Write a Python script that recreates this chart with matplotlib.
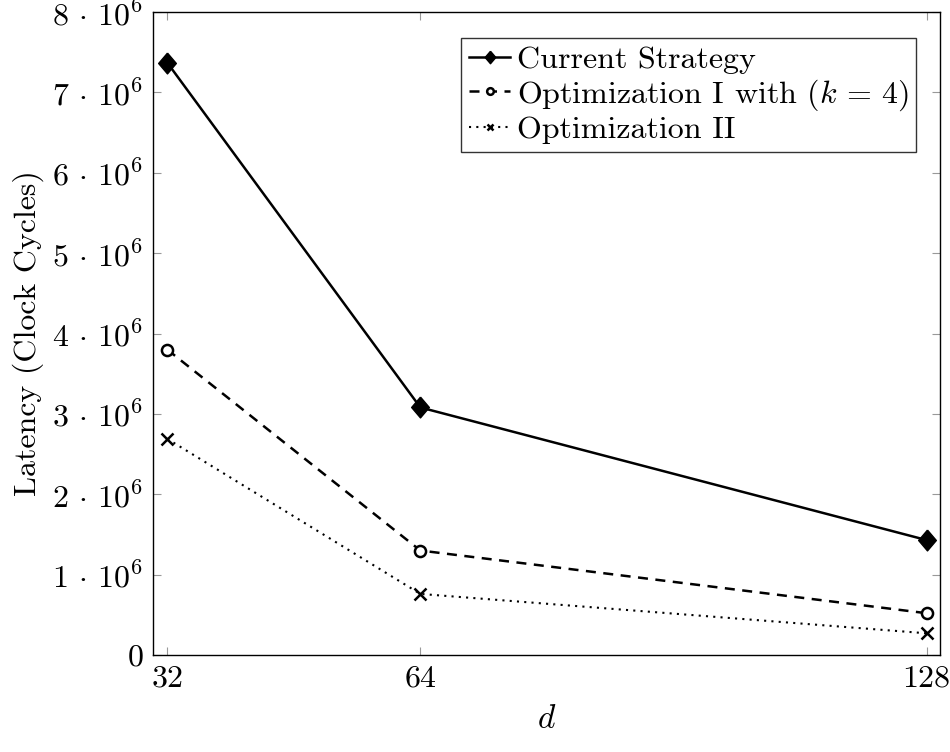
import numpy as np
import matplotlib.pyplot as plt

plt.rcParams['font.family'] = 'serif'
plt.rcParams['font.serif'] = ['cmr10', 'DejaVu Serif']
plt.rcParams['mathtext.fontset'] = 'cm'
plt.rcParams['axes.formatter.use_mathtext'] = True
plt.rcParams['axes.unicode_minus'] = False

# data
d = [32, 64, 128]
current = [7.37e6, 3.08e6, 1.43e6]
opt1 = [3.80e6, 1.30e6, 0.52e6]
opt2 = [2.69e6, 0.76e6, 0.27e6]
yticks = [0, 1e6, 2e6, 3e6, 4e6, 5e6, 6e6, 7e6, 8e6]
ytick_labels = ['$0$'] + [r'$%d\,\cdot\,10^6$' % k for k in range(1, 9)]

# pgfplots-like diamond (a bit taller than wide)
diamond = [(0, 1), (0.85, 0), (0, -1), (-0.85, 0), (0, 1)]

fig = plt.figure(figsize=(9.5, 7.52), dpi=100)
ax = fig.add_axes([153 / 950, 1 - 655 / 752, 787 / 950, 643 / 752])

ax.plot(d, current, color='black', lw=1.8, marker=diamond, ms=15, mfc='black',
        label='Current Strategy')
ax.plot(d, opt1, color='black', lw=1.8, ls=(0, (4, 3)), marker='o', ms=8,
        mfc='white', mew=1.8, label=r'Optimization I with $(k\,=\,4)$')
ax.plot(d, opt2, color='black', lw=1.5, ls=(0, (1, 2.5)), marker='x', ms=8,
        mew=1.8, label='Optimization II')

ax.set_xlim(30.2, 129.7)
ax.set_ylim(0, 8e6)
ax.set_xticks(d)
ax.set_xticklabels(['$%d$' % v for v in d])
ax.set_yticks(yticks)
ax.set_yticklabels(ytick_labels)
ax.tick_params(direction='in', length=6, color='#999999', labelsize=23,
               top=True, right=True, pad=7)
for s in ax.spines.values():
    s.set_linewidth(1.0)

ax.set_xlabel('$d$', fontsize=24, labelpad=9)
ax.set_ylabel('Latency (Clock Cycles)', fontsize=23, labelpad=6)

leg = ax.legend(loc='upper right', bbox_to_anchor=(0.97, 0.96), fontsize=23,
                frameon=True, fancybox=False, edgecolor='black',
                handlelength=1.3, handletextpad=0.2, borderpad=0.25,
                labelspacing=0.1, borderaxespad=0, markerscale=0.6)
leg.get_frame().set_linewidth(1.0)

fig.savefig('out.png', dpi=100)
